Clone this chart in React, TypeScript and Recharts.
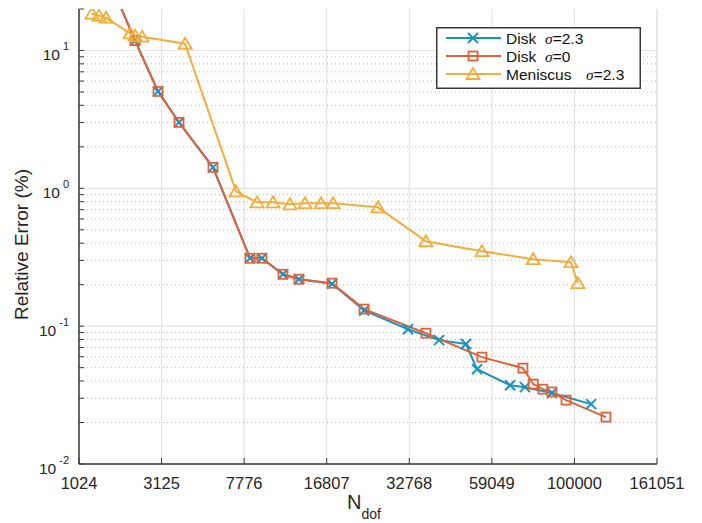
import { LineChart, Line, XAxis, YAxis, CartesianGrid, Legend } from 'recharts';

// degrees of freedom (x) and relative error in % (y)
const diskS23Dof = [1496, 2242, 2993, 3843, 5620, 8250, 9270, 11340, 13140, 17600, 22990, 32440, 40850, 49470, 53380, 66650, 73430, 87100, 110500];
const diskS23Err = [38, 11.8, 5.05, 3.01, 1.42, 0.311, 0.311, 0.238, 0.219, 0.203, 0.13, 0.095, 0.0792, 0.0742, 0.0487, 0.0373, 0.0361, 0.0327, 0.0272];

const diskS0Dof = [1496, 2242, 2993, 3843, 5620, 8250, 9270, 11340, 13140, 17600, 22990, 37100, 55200, 72500, 77400, 82300, 87100, 95000, 120600];
const diskS0Err = [38, 11.8, 5.05, 3.01, 1.42, 0.311, 0.311, 0.238, 0.219, 0.205, 0.133, 0.0889, 0.0596, 0.0496, 0.038, 0.0349, 0.0333, 0.0291, 0.0219];

const meniscusDof = [1241, 1373, 1516, 2100, 2242, 2455, 4120, 7160, 8840, 10330, 12100, 13880, 16000, 17750, 25720, 37100, 55200, 77400, 97900, 102100];
const meniscusErr = [18.5, 17.9, 17.3, 13.3, 12.8, 12.6, 11.2, 0.951, 0.792, 0.792, 0.766, 0.78, 0.78, 0.78, 0.728, 0.413, 0.35, 0.306, 0.291, 0.205];

const xTickDof = [1024, 3125, 7776, 16807, 32768, 59049, 100000, 161051];
const yMajor = [0.01, 0.1, 1, 10];
const yMinor = [
  0.02, 0.03, 0.04, 0.05, 0.06, 0.07, 0.08, 0.09,
  0.2, 0.3, 0.4, 0.5, 0.6, 0.7, 0.8, 0.9,
  2, 3, 4, 5, 6, 7, 8, 9,
];
const yTicks = [...yMajor, ...yMinor, 20].sort((a, b) => a - b);

const legendNames = ['Disk', 'Disk', 'Meniscus'];
const legendSigma = ['σ=2.3', 'σ=0', 'σ=2.3'];

const BLUE = '#1a93c0';
const RED = '#e0623a';
const YELLOW = '#f2ad3c';
const AXIS = '#3a3a3a';
const FONT = '"Liberation Sans", Arial, Helvetica, sans-serif';

// x axis is linear in N^(1/5)
const root5 = (n: number) => Math.pow(n, 0.2);
const toPoints = (dof: number[], err: number[]) => dof.map((d, i) => ({ x: root5(d), err: err[i] }));

const diskS23 = toPoints(diskS23Dof, diskS23Err);
const diskS0 = toPoints(diskS0Dof, diskS0Err);
const meniscus = toPoints(meniscusDof, meniscusErr);
const xTicks = xTickDof.map(root5);

const isMajor = (v: number) => yMajor.some((m) => Math.abs(m - v) < 1e-9);

const BottomTick = (props: any) => {
  const { x, y, payload } = props;
  return (
    <g>
      <line x1={x} x2={x} y1={y} y2={y - 6} stroke={AXIS} strokeWidth={1} />
      <text x={x} y={y + 25} textAnchor="middle" fontSize={16.5} fontFamily={FONT} fill="#262626">
        {Math.round(Math.pow(payload.value, 5))}
      </text>
    </g>
  );
};

const TopTick = (props: any) => {
  const { x, y } = props;
  return <line x1={x} x2={x} y1={y} y2={y + 6} stroke={AXIS} strokeWidth={1} />;
};

const LeftTick = (props: any) => {
  const { x, y, payload } = props;
  const v = payload.value;
  const major = isMajor(v);
  return (
    <g>
      <line x1={x} x2={x + 5} y1={y} y2={y} stroke={AXIS} strokeWidth={1} />
      {major && (
        <text x={x - 10} y={y + 10} textAnchor="end" fontSize={15.5} fontFamily={FONT} fill="#262626">
          <tspan>10</tspan>
          <tspan dx={3} dy={-10.5} fontSize={11}>{Math.round(Math.log10(v))}</tspan>
        </text>
      )}
    </g>
  );
};

const RightTick = (props: any) => {
  const { x, y } = props;
  return <line x1={x} x2={x - 5} y1={y} y2={y} stroke={AXIS} strokeWidth={1} />;
};

const CrossDot = (props: any) => {
  const { cx, cy, index } = props;
  if (cx == null || cy == null) return <g key={`c${index}`} />;
  const r = 5;
  return (
    <g key={`c${index}`} stroke={BLUE} strokeWidth={2}>
      <line x1={cx - r} y1={cy - r} x2={cx + r} y2={cy + r} />
      <line x1={cx - r} y1={cy + r} x2={cx + r} y2={cy - r} />
    </g>
  );
};

const SquareDot = (props: any) => {
  const { cx, cy, index } = props;
  if (cx == null || cy == null) return <g key={`s${index}`} />;
  return <rect key={`s${index}`} x={cx - 4.5} y={cy - 4.5} width={9} height={9} fill="none" stroke={RED} strokeWidth={1.8} />;
};

const TriangleDot = (props: any) => {
  const { cx, cy, index } = props;
  if (cx == null || cy == null) return <g key={`t${index}`} />;
  const pts = `${cx},${cy - 6} ${cx + 6.5},${cy + 5} ${cx - 6.5},${cy + 5}`;
  return <polygon key={`t${index}`} points={pts} fill="none" stroke={YELLOW} strokeWidth={1.8} />;
};

const legendColors = [BLUE, RED, YELLOW];
const legendMarkers = [CrossDot, SquareDot, TriangleDot];
const legendSigmaX = [109, 109, 150];

const LegendBox = () => (
  <svg width={205} height={62} style={{ display: 'block' }}>
    <rect x={0.75} y={0.75} width={203.5} height={60.5} fill="#fff" stroke={AXIS} strokeWidth={1.5} />
    {legendNames.map((name, i) => {
      const cy = 11 + i * 18;
      const Marker = legendMarkers[i];
      return (
        <g key={name + i}>
          <line x1={10} x2={65} y1={cy} y2={cy} stroke={legendColors[i]} strokeWidth={2} />
          {Marker({ cx: 37, cy, index: 100 + i })}
          <text x={70} y={cy + 5.5} fontSize={15.5} fontFamily={FONT} fill="#111">{name}</text>
          <text x={legendSigmaX[i]} y={cy + 5.5} fontSize={15.5} fontFamily={FONT} fill="#111">
            <tspan fontStyle="italic" fontFamily='"Liberation Serif", serif'>σ</tspan>
            <tspan>{legendSigma[i].slice(1)}</tspan>
          </text>
        </g>
      );
    })}
  </svg>
);

const YLabel = (props: any) => {
  const { viewBox } = props;
  const cy = viewBox.y + viewBox.height / 2 + 8;
  return (
    <text x={28} y={cy} transform={`rotate(-90 28 ${cy})`} textAnchor="middle" fontSize={19} fontFamily={FONT} fill="#262626">
      Relative Error (%)
    </text>
  );
};

const XLabel = (props: any) => {
  const { viewBox } = props;
  const cx = viewBox.x + viewBox.width / 2 - 4;
  return (
    <text x={cx} y={viewBox.y + 45} textAnchor="middle" fontSize={20} fontFamily={FONT} fill="#262626">
      <tspan>N</tspan>
      <tspan dy={10} fontSize={14}>dof</tspan>
    </text>
  );
};

export default function App() {
  return (
    <div style={{ position: 'absolute', left: 0, top: 0, width: 702, height: 523, background: '#fff' }}>
      <LineChart width={702} height={523} margin={{ top: 9, right: 45, bottom: 0, left: 0 }}>
        <CartesianGrid stroke="#e3e3e3" strokeWidth={1.2} horizontalValues={yMajor} />
        <CartesianGrid stroke="#bcbcbc" vertical={false} strokeDasharray="1 3" horizontalValues={yMinor} />
        <XAxis
          dataKey="x"
          type="number"
          domain={[4, 11]}
          ticks={xTicks}
          interval={0}
          allowDataOverflow
          height={59}
          tickSize={0}
          tickMargin={0}
          tickLine={false}
          tick={<BottomTick />}
          axisLine={{ stroke: AXIS, strokeWidth: 1.5 }}
          label={<XLabel />}
        />
        <XAxis
          xAxisId="top"
          orientation="top"
          dataKey="x"
          type="number"
          domain={[4, 11]}
          ticks={xTicks}
          interval={0}
          allowDataOverflow
          height={0}
          tickSize={0}
          tickMargin={0}
          tickLine={false}
          tick={<TopTick />}
          axisLine={{ stroke: AXIS, strokeWidth: 1.5 }}
        />
        <YAxis
          type="number"
          scale="log"
          domain={[0.01, 20]}
          ticks={yTicks}
          interval={0}
          allowDataOverflow
          width={79}
          tickSize={0}
          tickMargin={0}
          tickLine={false}
          tick={<LeftTick />}
          axisLine={{ stroke: AXIS, strokeWidth: 1.5 }}
          label={<YLabel />}
        />
        <YAxis
          yAxisId="right"
          orientation="right"
          type="number"
          scale="log"
          domain={[0.01, 20]}
          ticks={yTicks}
          interval={0}
          allowDataOverflow
          width={0}
          tickSize={0}
          tickMargin={0}
          tickLine={false}
          tick={<RightTick />}
          axisLine={{ stroke: AXIS, strokeWidth: 1.5 }}
        />
        <Legend
          layout="vertical"
          align="center"
          verticalAlign="middle"
          wrapperStyle={{ left: 436, top: 27, width: 205, height: 62 }}
          content={<LegendBox />}
        />
        <Line data={diskS23} dataKey="err" name="Disk σ=2.3" stroke={BLUE} strokeWidth={2} dot={CrossDot} isAnimationActive={false} />
        <Line data={diskS0} dataKey="err" name="Disk σ=0" stroke={RED} strokeWidth={2} dot={SquareDot} isAnimationActive={false} />
        <Line data={meniscus} dataKey="err" name="Meniscus σ=2.3" stroke={YELLOW} strokeWidth={2} dot={TriangleDot} isAnimationActive={false} />
      </LineChart>
    </div>
  );
}
